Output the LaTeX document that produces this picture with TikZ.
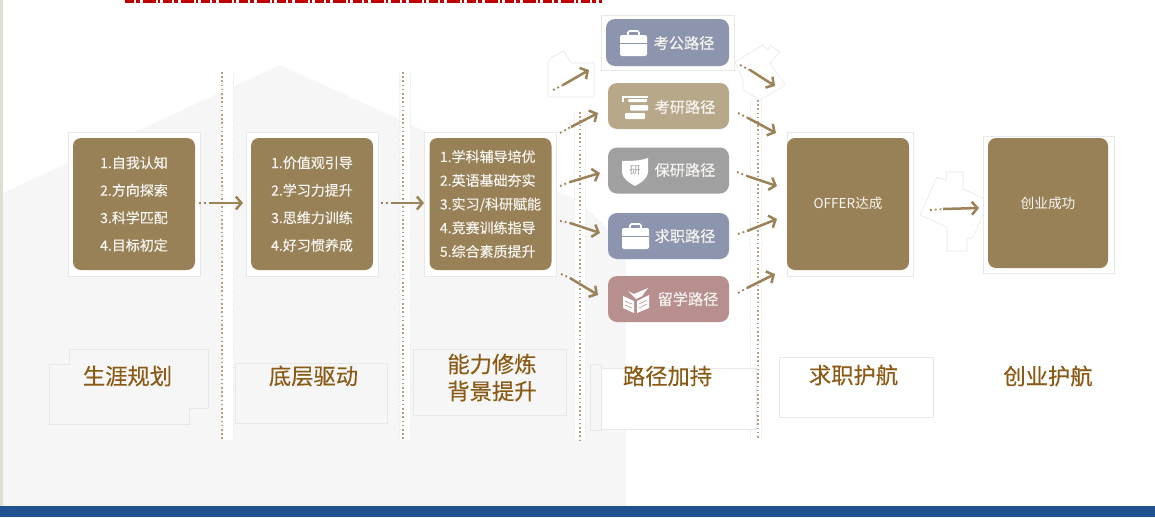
\documentclass[tikz,border=0pt]{standalone}
\usepackage{fontspec}
\setmainfont{Noto Sans CJK SC}
\usetikzlibrary{arrows.meta}

\definecolor{boxgold}{HTML}{998157}
\definecolor{arrowgold}{HTML}{9C8259}
\definecolor{pathblue}{HTML}{8C94AE}
\definecolor{pathtan}{HTML}{B8A88A}
\definecolor{pathgray}{HTML}{A0A0A0}
\definecolor{pathrose}{HTML}{B78F8F}
\definecolor{labelbrown}{HTML}{8B5A14}
\definecolor{barblue}{HTML}{20528F}
\definecolor{ghostline}{HTML}{E8E8E8}
\definecolor{roofgray}{HTML}{F6F6F6}
\definecolor{edgestrip}{HTML}{DDDFD3}

\tikzset{
  stagebox/.style={fill=boxgold, rounded corners=8pt, minimum width=122pt, minimum height=132pt,
    inner sep=0pt, text=white!92!boxgold, align=left, font=\fontsize{14}{27.5}\selectfont\addfontfeature{FakeBold=0.3}},
  pathbox/.style={rounded corners=9pt, minimum width=121pt, minimum height=46pt, inner sep=0pt},
  pathtext/.style={text=white!92!boxgold, font=\fontsize{15.2}{17}\selectfont\addfontfeature{FakeBold=0.3}},
  stagelabel/.style={text=labelbrown, align=center, font=\fontsize{22.3}{27}\selectfont\addfontfeature{FakeBold=0.3}},
  ghostbox/.style={draw=ghostline, fill=white, line width=0.8pt, inner sep=0pt},
  ghostpatch/.style={draw=ghostline, fill=white, line width=0.6pt},
  labelframe/.style={draw=ghostline, line width=0.8pt, inner sep=0pt},
  sepband/.style={draw=arrowgold!75, line width=1.4pt, dash pattern=on 1.6pt off 2.6pt,
    preaction={draw=white, solid, line width=12pt, transform canvas={xshift=#1}},
    preaction={draw=ghostline, line width=0.9pt, densely dotted, transform canvas={xshift=#1+5.5pt}},
    preaction={draw=ghostline, line width=0.9pt, densely dotted, transform canvas={xshift=#1-5.5pt}}},
  taildots/.style={draw=arrowgold, line width=1.8pt, dash pattern=on 1.8pt off 3pt},
  flowarrow/.style={draw=arrowgold, line width=2.5pt, -{Straight Barb[length=5.5pt,width=13pt]}},
  bagicon/.pic={
    \draw[white, line width=1.6pt, rounded corners=1.5pt] (8,6) -- (8,1) -- (19,1) -- (19,6);
    \fill[white, rounded corners=2pt] (0,5) rectangle (27,26);
    \draw[pathblue, line width=1pt] (0,13) -- (27,13);
  }
}

\begin{document}
\begin{tikzpicture}[x=1pt,y=-1pt]
\useasboundingbox (0,0) rectangle (1155,517);

% ground
\fill[white] (0,0) rectangle (1155,517);
\fill[roofgray] (3,193) -- (280,65) -- (577,200) -- (626,245) -- (626,506) -- (3,506) -- cycle;
\fill[barblue] (0,506) rectangle (1155,517);
\fill[edgestrip] (0,0) rectangle (3,506);

% cut off heading
\draw[red!75!black, line width=3.4pt, dash pattern=on 9pt off 2pt on 4pt off 3pt on 13pt off 2pt on 2pt off 3pt]
  (125,1.7) -- (602,1.7);

% dividers
\coordinate (sepa1) at (222,72);  \coordinate (sepa2) at (222,440);
\coordinate (sepb1) at (403,72);  \coordinate (sepb2) at (403,440);
\coordinate (sepc1) at (580,112); \coordinate (sepc2) at (580,440);
\coordinate (sepd1) at (758,100); \coordinate (sepd2) at (758,440);
\draw[sepband=5.5pt] (sepa1) -- (sepa2);
\draw[sepband=2pt] (sepb1) -- (sepb2);
\draw[sepband=0pt] (sepc1) -- (sepc2);
\draw[sepband=-2pt] (sepd1) -- (sepd2);

% white patches behind the arrows
\draw[ghostpatch] (548,63) -- (552,57) -- (564,51) -- (571,63) -- (594,63) -- (594,97) -- (548,97) -- cycle;
\draw[ghostpatch] (735,62) -- (763,45) -- (768,50) -- (770,45) -- (780,52) -- (770,63) -- (785,85) -- (760,100) -- (743,90) -- (743,80) -- cycle;
\draw[ghostpatch] (920,215) -- (937,177) -- (946,181) -- (946,172) -- (963,172) -- (963,189) -- (983,198) -- (988,202) -- (973,238) -- (967,238) -- (967,251) -- (947,251) -- (947,227) -- cycle;

% frames under the stage boxes
\node[ghostbox, minimum width=132pt, minimum height=144pt] (ghosta) at (134,204) {};
\node[ghostbox, minimum width=132pt, minimum height=144pt] (ghostb) at (312,204) {};
\node[ghostbox, minimum width=132pt, minimum height=144pt] (ghostc) at (490.5,204) {};
\node[ghostbox, minimum width=126pt, minimum height=144pt] (ghostd) at (850,204) {};
\node[ghostbox, minimum width=131pt, minimum height=137pt] (ghoste) at (1048.5,204.5) {};
\node[ghostbox, minimum width=133pt, minimum height=55pt] (ghostgk) at (667.5,42.5) {};

% stage boxes
\node[stagebox] (ziwo) at (134,204) {1.自我认知\\2.方向探索\\3.科学匹配\\4.目标初定};
\node[stagebox] (jiazhi) at (312,204) {1.价值观引导\\2.学习力提升\\3.思维力训练\\4.好习惯养成};
\node[stagebox, font=\fontsize{14}{23.7}\selectfont\addfontfeature{FakeBold=0.3}] (xueke) at (490.5,204)
  {1.学科辅导培优\\2.英语基础夯实\\3.实习/科研赋能\\4.竞赛训练指导\\5.综合素质提升};
\node[stagebox, font=\fontsize{13.6}{16}\selectfont] (offer) at (848,204) {\raisebox{2pt}{OFFER达成}};
\node[stagebox, minimum width=120pt, minimum height=130pt, font=\fontsize{13.7}{16}\selectfont] (chuangye) at (1048,203) {\raisebox{-2pt}{创业成功}};

% path boxes
\node[pathbox, fill=pathblue, minimum height=47pt, minimum width=123pt] (gongbox) at (667.5,42.5) {};
\node[pathbox, fill=pathtan] (yanbox) at (668.5,106) {};
\node[pathbox, fill=pathgray] (baobox) at (668.5,170.5) {};
\node[pathbox, fill=pathblue] (qiubox) at (668.5,236) {};
\node[pathbox, fill=pathrose] (liubox) at (668.5,299) {};
\node[pathtext] (gongtext) at (684,43) {考公路径};
\node[pathtext] (yantext) at (685,107) {考研路径};
\node[pathtext] (baotext) at (685,170) {保研路径};
\node[pathtext] (qiutext) at (685,236) {求职路径};
\node[pathtext] (liutext) at (688,299) {留学路径};

% path icons
\pic at (620,30) {bagicon};
\pic at (622,223) {bagicon};
\draw[white, line width=1.5pt] (648,97) -- (623,97) -- (623,102);
\fill[white, rounded corners=1pt] (628,99) rectangle (647,102);
\fill[white, rounded corners=1pt] (630,105) rectangle (648,110.5);
\fill[white, rounded corners=1pt] (625,113) rectangle (645,119);
\fill[white] (622,161) .. controls (630,161) and (640,161) .. (648,158) -- (648,172) .. controls (647,180) and (640,183) .. (635,186) .. controls (630,183) and (623,180) .. (622,172) -- cycle;
\node[text=pathgray, inner sep=0pt, font=\fontsize{11}{12}\selectfont] (yanmark) at (635,171) {研};
\fill[white] (623,296) -- (634,301) -- (634,313) -- (623,308) -- cycle;
\fill[white] (637,301) -- (649,295) -- (649,308) -- (637,313) -- cycle;
\fill[white] (628,291) -- (634,294) -- (648,288) -- (642,296) -- (636,299) -- cycle;
\draw[pathrose, line width=0.6pt] (625,301) -- (632,304) (625,305) -- (632,308) (639,304) -- (647,300) (639,308) -- (647,304);

% arrows, dots first
\coordinate (ga) at (199,203); \coordinate (gb) at (209,203); \coordinate (gc) at (243,203);
\coordinate (ha) at (381,203); \coordinate (hb) at (392,203); \coordinate (hc) at (424,203);
\coordinate (ia) at (553,90);  \coordinate (ib) at (563,85);  \coordinate (ic) at (589,70);
\coordinate (ja) at (560,133); \coordinate (jb) at (571,127); \coordinate (jc) at (598,113);
\coordinate (ka) at (560,186); \coordinate (kb) at (570,182); \coordinate (kc) at (600,173);
\coordinate (la) at (560,221); \coordinate (lb) at (570,223); \coordinate (lc) at (600,233);
\coordinate (ma) at (561,274); \coordinate (mb) at (570,278); \coordinate (mc) at (598,295);
\coordinate (na) at (740,65);  \coordinate (nb) at (750,70);  \coordinate (nc) at (775,86);
\coordinate (oa) at (738,113); \coordinate (ob) at (748,118); \coordinate (oc) at (776,133);
\coordinate (pa) at (737,172); \coordinate (pb) at (747,176); \coordinate (pc) at (777,186);
\coordinate (qa) at (738,234); \coordinate (qb) at (747,231); \coordinate (qc) at (777,219);
\coordinate (ra) at (738,293); \coordinate (rb) at (747,288); \coordinate (rc) at (775,274);
\coordinate (sa) at (930,210); \coordinate (sb) at (943,209); \coordinate (sc) at (979,208);

\draw[taildots] (ga) -- (gb); \draw[flowarrow] (gb) -- (gc);
\draw[taildots] (ha) -- (hb); \draw[flowarrow] (hb) -- (hc);
\draw[taildots] (ia) -- (ib); \draw[flowarrow] (ib) -- (ic);
\draw[taildots] (ja) -- (jb); \draw[flowarrow] (jb) -- (jc);
\draw[taildots] (ka) -- (kb); \draw[flowarrow] (kb) -- (kc);
\draw[taildots] (la) -- (lb); \draw[flowarrow] (lb) -- (lc);
\draw[taildots] (ma) -- (mb); \draw[flowarrow] (mb) -- (mc);
\draw[taildots] (na) -- (nb); \draw[flowarrow] (nb) -- (nc);
\draw[taildots] (oa) -- (ob); \draw[flowarrow] (ob) -- (oc);
\draw[taildots] (pa) -- (pb); \draw[flowarrow] (pb) -- (pc);
\draw[taildots] (qa) -- (qb); \draw[flowarrow] (qb) -- (qc);
\draw[taildots] (ra) -- (rb); \draw[flowarrow] (rb) -- (rc);
\draw[taildots] (sa) -- (sb); \draw[flowarrow] (sb) -- (sc);

% stage names and their frames
\draw[labelframe] (49,364) -- (69,364) -- (69,349) -- (208,349) -- (208,408) -- (189,408) -- (189,424) -- (49,424) -- cycle;
\draw[labelframe] (235,363) rectangle (387,423);
\draw[labelframe] (413,349) rectangle (566,415);
\draw[labelframe] (590,364) rectangle (601,430);
\draw[labelframe, fill=white] (601,368) rectangle (756,429);
\draw[labelframe] (779,357) rectangle (933,417);

\node[stagelabel] (shengya) at (127.5,376) {生涯规划};
\node[stagelabel] (diceng) at (313.5,376) {底层驱动};
\node[stagelabel] (nengli) at (492,377.5) {能力修炼\\背景提升};
\node[stagelabel] (lujing) at (667.5,376) {路径加持};
\node[stagelabel] (qiuzhi) at (853.5,375) {求职护航};
\node[stagelabel] (chuanghu) at (1048,376) {创业护航};

\end{tikzpicture}
\end{document}
